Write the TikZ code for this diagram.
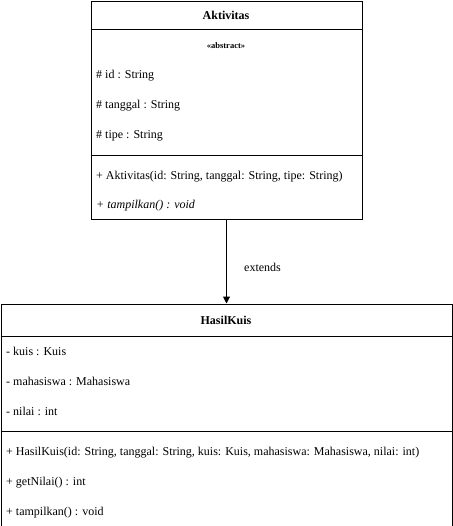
\documentclass[tikz,border=0pt]{standalone}
\usepackage{fontspec}
\setmainfont{Liberation Serif}
\usetikzlibrary{arrows.meta}
\begin{document}
\begin{tikzpicture}[x=1pt,y=-1pt,
  classbox/.style={draw=black, line width=1pt, fill=white, anchor=north west, inner sep=0pt},
  txt/.style={anchor=base west, inner sep=0pt, font=\fontsize{12}{14}\selectfont},
  ttl/.style={anchor=base, inner sep=0pt, font=\fontsize{12}{14}\selectfont\bfseries},
  sep/.style={line width=1pt},
  arr/.style={line width=1pt, -{Triangle[width=7pt,length=7pt]}}]
\useasboundingbox (0,0) rectangle (452,526);
% Aktivitas
\node[classbox, minimum width=271pt, minimum height=218pt] (akt) at (90.5,1) {};
\coordinate (a1l) at (90.5,30); \coordinate (a1r) at (361.5,30);
\coordinate (a2l) at (90.5,155.5); \coordinate (a2r) at (361.5,155.5);
\draw[sep] (a1l) -- (a1r);
\draw[sep] (a2l) -- (a2r);
\node[ttl] (aktt) at (226,20) {Aktivitas};
\node[anchor=base, inner sep=0pt, font=\fontsize{8.5}{10}\selectfont\bfseries] (abs) at (226,49) {«abstract»};
\node[txt] (aid) at (96,79) {\# id : String};
\node[txt] (atg) at (96,109) {\# tanggal : String};
\node[txt] (atp) at (96,139) {\# tipe : String};
\node[txt] (am1) at (96,180) {+ Aktivitas(id: String, tanggal: String, tipe: String)};
\node[txt, font=\fontsize{12}{14}\selectfont\itshape] (am2) at (96,209) {+ tampilkan() : void};
% HasilKuis
\node[classbox, minimum width=451pt, minimum height=222pt] (hk) at (0.5,303.5) {};
\coordinate (h1l) at (0.5,336.5); \coordinate (h1r) at (451.5,336.5);
\coordinate (h2l) at (0.5,431.5); \coordinate (h2r) at (451.5,431.5);
\draw[sep] (h1l) -- (h1r);
\draw[sep] (h2l) -- (h2r);
\node[ttl] (hkt) at (226,324) {HasilKuis};
\node[txt] (hk1) at (6,355) {- kuis : Kuis};
\node[txt] (hk2) at (6,385) {- mahasiswa : Mahasiswa};
\node[txt] (hk3) at (6,415) {- nilai : int};
\node[txt] (hm1) at (6,455) {+ HasilKuis(id: String, tanggal: String, kuis: Kuis, mahasiswa: Mahasiswa, nilai: int)};
\node[txt] (hm2) at (6,485) {+ getNilai() : int};
\node[txt] (hm3) at (6,515) {+ tampilkan() : void};
% connector
\draw[arr] (akt.south) -- (hk.north);
\node[txt] (ext) at (244,271) {extends};
\end{tikzpicture}
\end{document}
